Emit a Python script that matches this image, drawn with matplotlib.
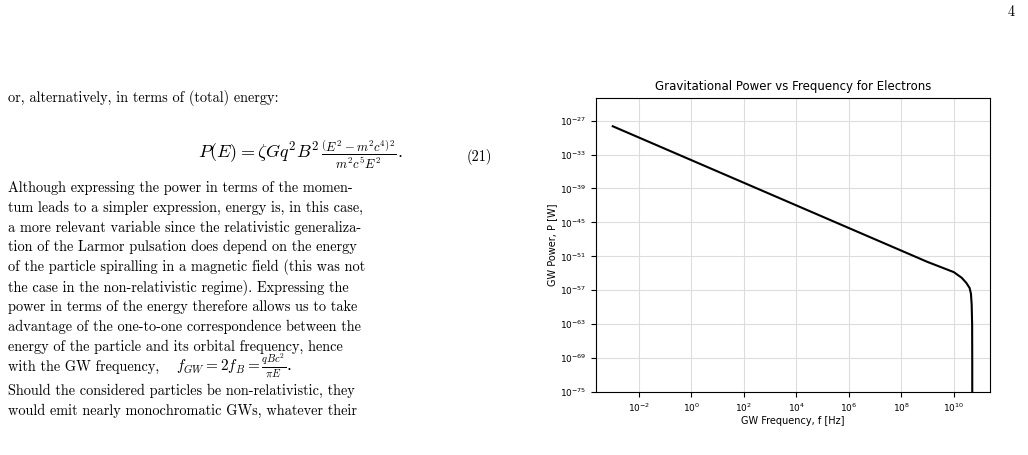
import matplotlib
matplotlib.use("Agg")
import matplotlib.pyplot as plt

# Data
freq_hz = [1e-3, 1e0, 1e3, 1e4, 1e6, 1e9, 1e10, 2e10, 3e10, 4e10, 4.5e10, 4.8e10, 5.0e10, 5.05e10, 5.06e10]
power_w = [1e-28, 1e-34, 1e-40, 1e-42, 1e-46, 1e-52, 1.6e-54, 1.6e-55, 2e-56, 2.5e-57, 2.5e-58, 3e-60, 1e-63, 1e-70, 1e-90]
y_ticks = [1e-27, 1e-33, 1e-39, 1e-45, 1e-51, 1e-57, 1e-63, 1e-69, 1e-75]
x_ticks = [1e-2, 1e0, 1e2, 1e4, 1e6, 1e8, 1e10]

plt.rcParams['mathtext.fontset'] = 'cm'
fig = plt.figure(figsize=(10.28, 4.55), dpi=100)

# Page text
serif = dict(family='cmr10', fontsize=10.3, color='black')
fig.text(1015/1028, 1-12/455, "4", ha='right', va='center', **serif)
fig.text(8/1028, 1-98/455, "or, alternatively, in terms of (total) energy:", ha='left', va='center', **serif)
fig.text(300/1028, 1-155/455, r"$P(E) = \zeta G q^2 B^2 \,\frac{\left(E^2 - m^2c^4\right)^2}{m^2c^5E^2}.$",
         ha='center', va='center', fontsize=13)
fig.text(492/1028, 1-157/455, "(21)", ha='right', va='center', **serif)
lines = [
    "Although expressing the power in terms of the momen-",
    "tum leads to a simpler expression, energy is, in this case,",
    "a more relevant variable since the relativistic generaliza-",
    "tion of the Larmor pulsation does depend on the energy",
    "of the particle spiralling in a magnetic field (this was not",
    "the case in the non-relativistic regime). Expressing the",
    "power in terms of the energy therefore allows us to take",
    "advantage of the one-to-one correspondence between the",
    "energy of the particle and its orbital frequency, hence",
]
ys = [188, 208, 228, 247, 267, 287, 307, 327, 347]
for t, y in zip(lines, ys):
    fig.text(8/1028, 1-y/455, t, ha='left', va='center', **serif)
fig.text(8/1028, 1-367/455, "with the GW frequency, ", ha='left', va='center', **serif)
fig.text(176/1028, 1-366/455, r"$f_{GW} = 2f_B = \frac{qBc^2}{\pi E}$.", ha='left', va='center', fontsize=11)
fig.text(8/1028, 1-391/455, "Should the considered particles be non-relativistic, they", ha='left', va='center', **serif)
fig.text(8/1028, 1-411/455, "would emit nearly monochromatic GWs, whatever their", ha='left', va='center', **serif)

# Chart
ax = fig.add_axes([596/1028, 1-392/455, 394/1028, 294/455])
ax.plot(freq_hz, power_w, color='black', lw=1.5)
ax.set_xscale('log')
ax.set_yscale('log')
ax.set_xlim(10**-3.64, 10**11.38)
ax.set_ylim(1e-75, 1e-23)
ax.set_yticks(y_ticks)
ax.set_xticks(x_ticks)
ax.minorticks_off()
ax.grid(True, color='#dddddd', lw=0.8)
ax.tick_params(labelsize=6.5)
ax.set_title("Gravitational Power vs Frequency for Electrons", fontsize=8.5)
ax.set_xlabel("GW Frequency, f [Hz]", fontsize=7, labelpad=1)
ax.set_ylabel("GW Power, P [W]", fontsize=7, labelpad=2)

fig.savefig("out.png", dpi=100)
